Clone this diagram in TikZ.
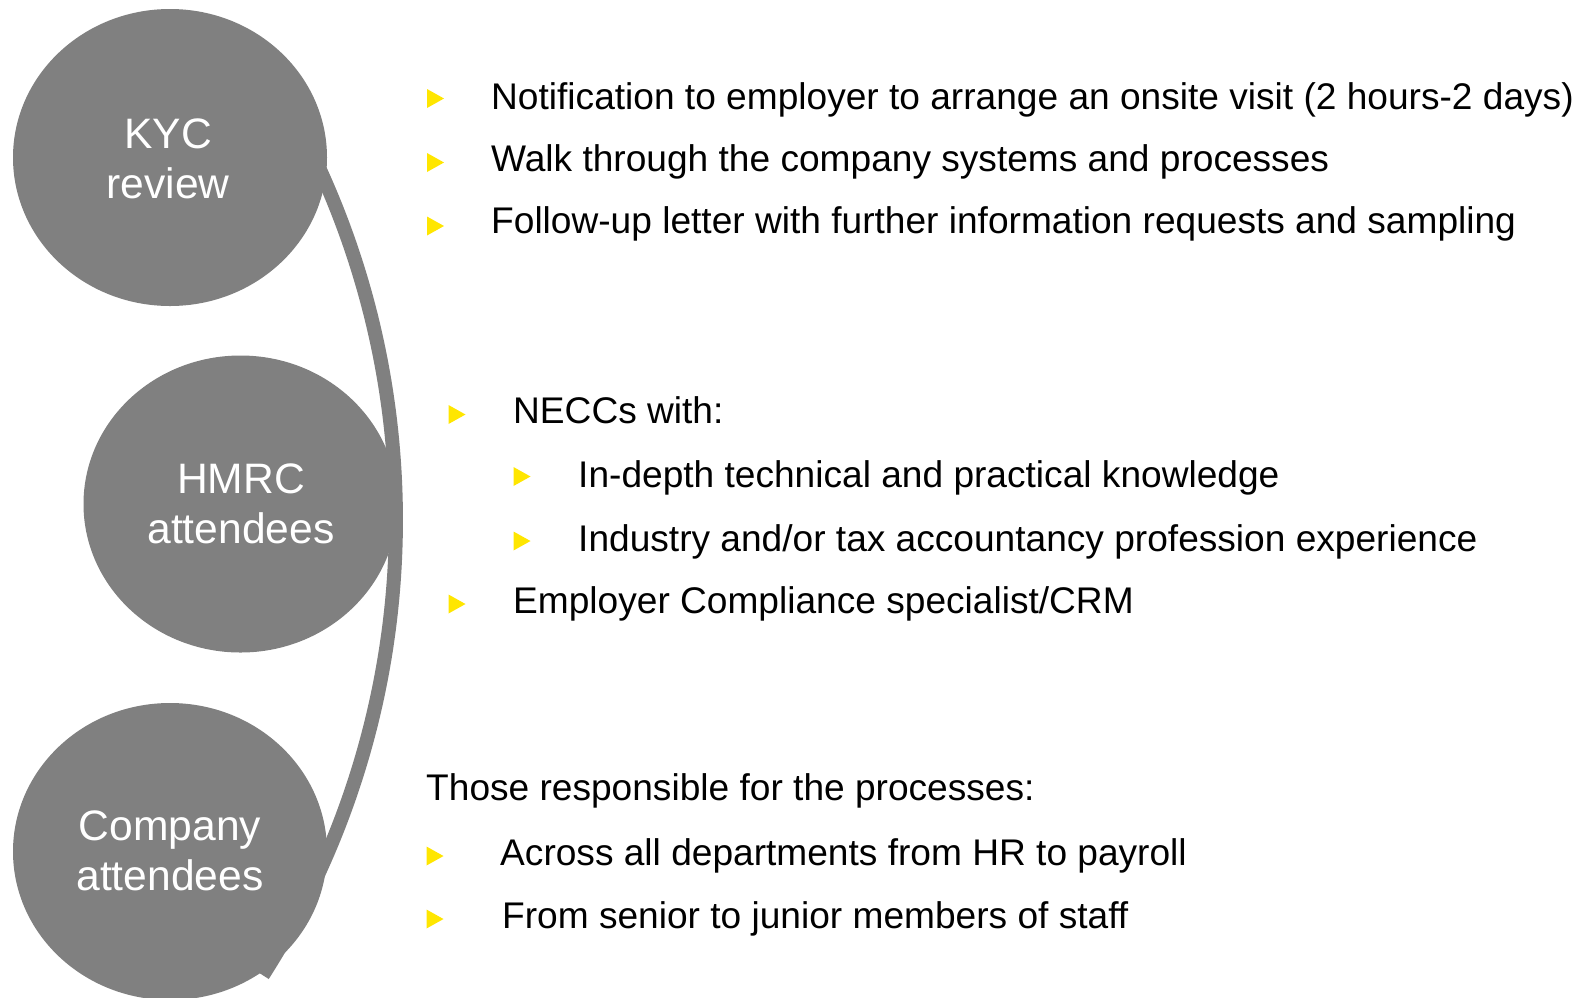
\documentclass[tikz,border=0pt]{standalone}
\usepackage{fontspec}
\usetikzlibrary{shapes.geometric}
\setmainfont{Liberation Sans}
\definecolor{discgray}{HTML}{808080}
\definecolor{bulletyellow}{HTML}{FFE600}
\begin{document}
\begin{tikzpicture}[x=1pt,y=-1pt,
  disc/.style={ellipse, fill=discgray, text=white, align=center,
    minimum width=314pt, minimum height=297pt, inner sep=0pt},
  disctext/.style={anchor=base, text=white, inner sep=0pt,
    font=\fontsize{42.6}{50}\selectfont},
  item/.style={anchor=base west, inner sep=0pt,
    font=\fontsize{37.1}{44}\selectfont},
  tri/.pic={\fill[bulletyellow] (-8.5,-9.5) -- (8.5,0) -- (-8.5,9.5) -- cycle;}]
\useasboundingbox (0,0) rectangle (1578,997);
\fill[white] (0,0) rectangle (1578,997);

% connecting arc behind the discs
\coordinate (arcC) at (-449,520);
\draw[discgray, line width=14pt] (arcC) ++(-32.6:845) arc[start angle=-32.6, end angle=32.6, radius=845];

% discs
\node[disc] (kyc) at (170,157.5) {};
\node[disc] (hmrc) at (240.5,504) {};
\node[disc] (comp) at (170,851.5) {};
\node[disctext] (kyc1) at (168,148) {KYC};
\node[disctext] (kyc2) at (168,198) {review};
\node[disctext] (hmrc1) at (241,493) {HMRC};
\node[disctext] (hmrc2) at (241,543) {attendees};
\node[disctext] (comp1) at (170,840) {Company};
\node[disctext] (comp2) at (170,890) {attendees};

% KYC review items
\pic at (435.5,98.5) {tri};
\node[item] (k1) at (491,109) {Notification to employer to arrange an onsite visit (2 hours-2 days)};
\pic at (435.5,162.5) {tri};
\node[item] (k2) at (491,171) {Walk through the company systems and processes};
\pic at (435.5,226) {tri};
\node[item] (k3) at (491,233) {Follow-up letter with further information requests and sampling};

% HMRC attendees items
\pic at (457,414.5) {tri};
\node[item] (h1) at (513,423) {NECCs with:};
\pic at (522,476.5) {tri};
\node[item] (h2) at (578,487) {In-depth technical and practical knowledge};
\pic at (522,541) {tri};
\node[item] (h3) at (578,551) {Industry and/or tax accountancy profession experience};
\pic at (457,604) {tri};
\node[item] (h4) at (513,613) {Employer Compliance specialist/CRM};

% Company attendees items
\node[item] (c0) at (426,800) {Those responsible for the processes:};
\pic at (435,856) {tri};
\node[item] (c1) at (500,865) {Across all departments from HR to payroll};
\pic at (435,919) {tri};
\node[item] (c2) at (502,928) {From senior to junior members of staff};
\end{tikzpicture}
\end{document}
